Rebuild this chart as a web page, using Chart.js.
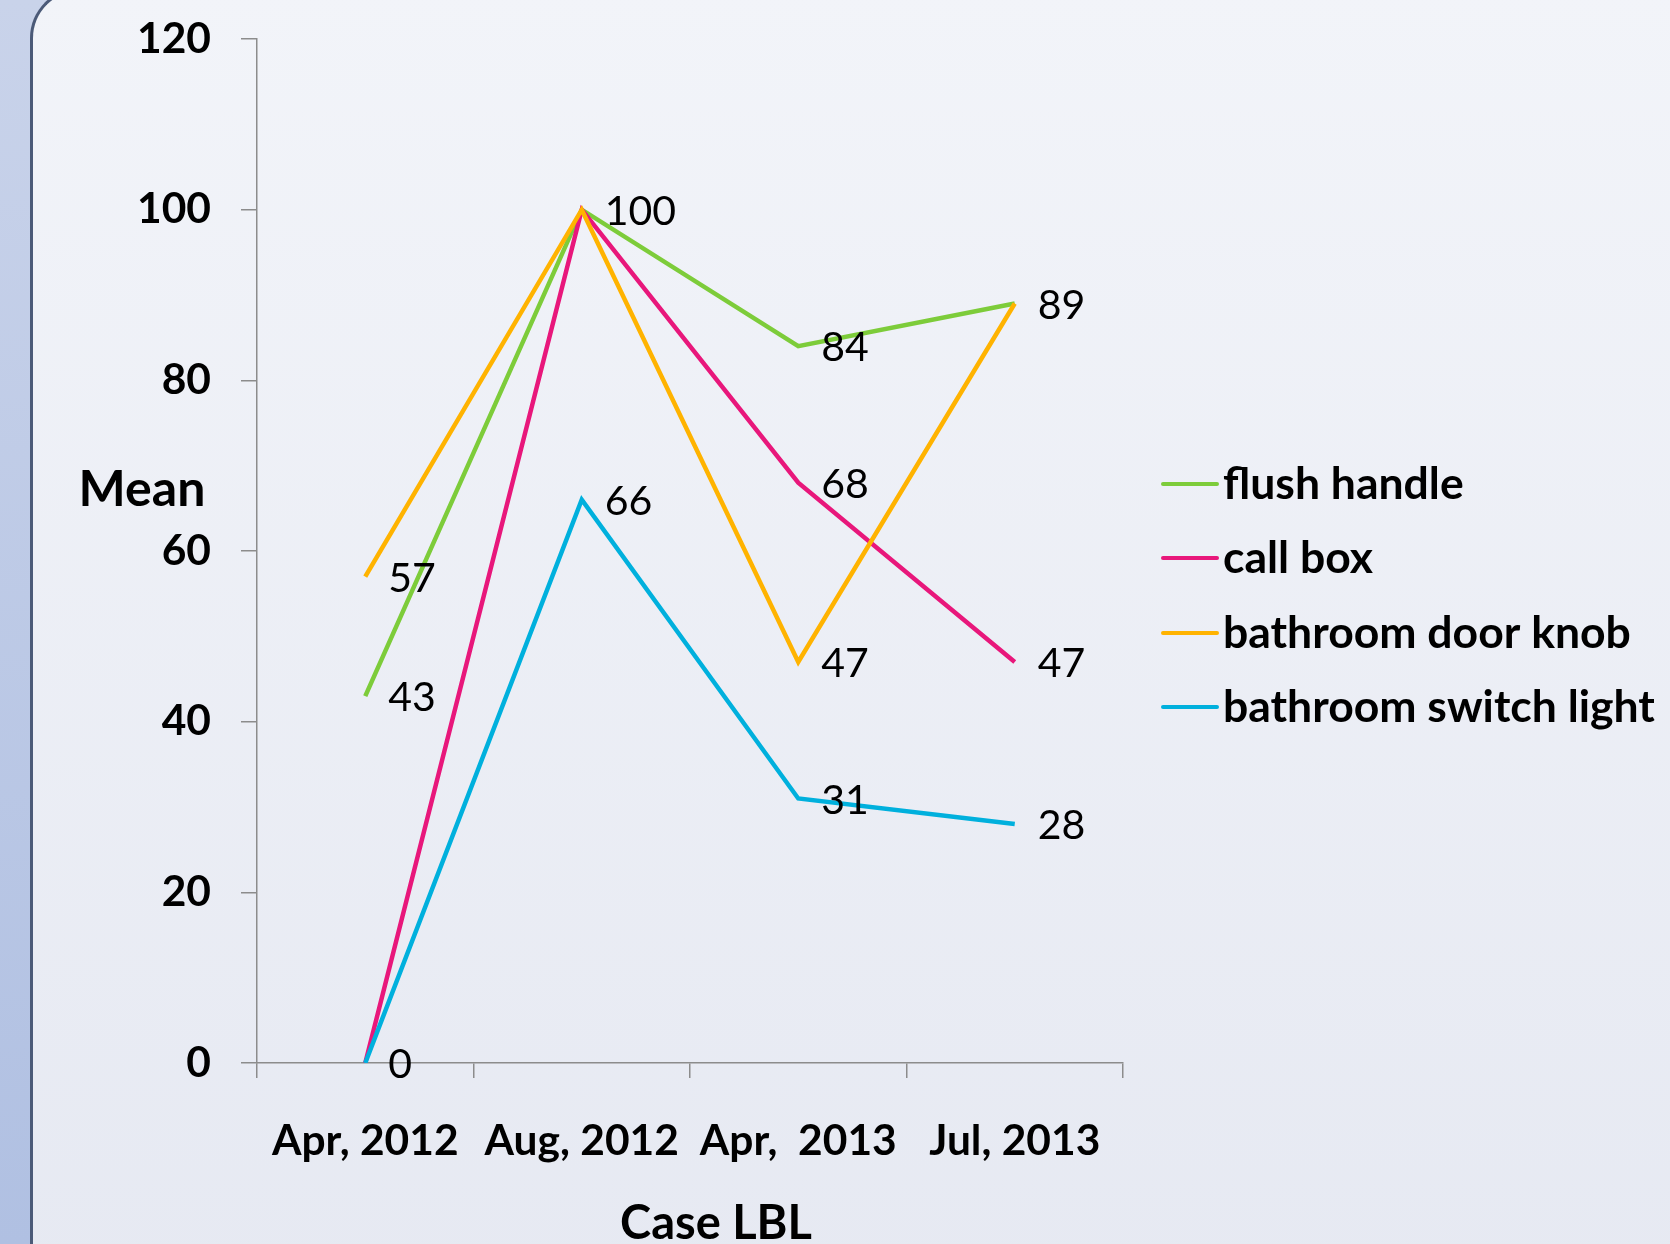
<!DOCTYPE html>
<html>
<head>
<meta charset="utf-8">
<script src="https://cdn.jsdelivr.net/npm/chart.js@4/dist/chart.umd.min.js"></script>
<style>
  html, body { margin: 0; padding: 0; }
  body {
    width: 1670px; height: 1244px; overflow: hidden; position: relative;
    background: linear-gradient(#c9d3ea, #b0c0e2);
  }
  #panel {
    position: absolute; left: 30px; top: -12px; width: 1700px; height: 1300px;
    border-left: 3px solid #4b5a78; border-top: 3px solid #4b5a78;
    border-top-left-radius: 50px;
    background: linear-gradient(#f2f4f9, #e6e9f2);
  }
  #wrap { position: absolute; left: 0; top: 0; width: 1670px; height: 1244px; }
</style>
</head>
<body>
<div id="panel"></div>
<div id="wrap"><canvas id="meanChart" width="1670" height="1244"></canvas></div>
<script>
// Mean by case label
const categories = ['Apr, 2012', 'Aug, 2012', 'Apr,  2013', 'Jul, 2013'];
const seriesNames = ['flush handle', 'call box', 'bathroom door knob', 'bathroom switch light'];
const flushHandle = [43, 100, 84, 89];
const callBox = [0, 100, 68, 47];
const doorKnob = [57, 100, 47, 89];
const switchLight = [0, 66, 31, 28];
const yTicks = [0, 20, 40, 60, 80, 100, 120];
const colors = ['#7dcc3a', '#e8177b', '#ffb300', '#00b0dd'];

const FONT = 'Lato, "Open Sans", sans-serif';

const extras = {
    id: 'extras',
    afterDatasetsDraw(chart) {
        const ctx = chart.ctx;
        ctx.save();
        // value labels right of each point
        ctx.font = '400 41px ' + FONT;
        ctx.fillStyle = '#000';
        ctx.textAlign = 'left';
        ctx.textBaseline = 'middle';
        const seen = {};
        chart.data.datasets.forEach((ds, i) => {
            chart.getDatasetMeta(i).data.forEach((pt, j) => {
                const key = Math.round(pt.x) + '_' + Math.round(pt.y) + '_' + ds.data[j];
                if (seen[key]) return;
                seen[key] = true;
                ctx.fillText(String(ds.data[j]), pt.x + 23, pt.y + 2);
            });
        });

        // axis titles
        ctx.textAlign = 'center';
        ctx.font = '700 50px ' + FONT;
        ctx.fillText('Mean', 142, 490);
        ctx.font = '700 47px ' + FONT;
        ctx.fillText('Case LBL', 716, 1224);

        // legend
        ctx.font = '700 44.5px ' + FONT;
        ctx.textAlign = 'left';
        const rows = [484, 558, 633, 707];
        chart.data.datasets.forEach((ds, i) => {
            ctx.strokeStyle = ds.borderColor;
            ctx.lineWidth = 4;
            ctx.lineCap = 'round';
            ctx.beginPath();
            ctx.moveTo(1163, rows[i]);
            ctx.lineTo(1217, rows[i]);
            ctx.stroke();
            ctx.fillText(ds.label, 1223, rows[i] + 1);
        });
        ctx.restore();
    }
};

const seriesData = [flushHandle, callBox, doorKnob, switchLight];

new Chart(document.getElementById('meanChart'), {
    type: 'line',
    data: {
        labels: categories,
        datasets: seriesNames.map((name, i) => ({
            label: name,
            data: seriesData[i],
            borderColor: colors[i],
            backgroundColor: colors[i],
            borderWidth: 4.5,
            pointRadius: 0,
            tension: 0,
            order: 4 - i
        }))
    },
    options: {
        responsive: false,
        animation: false,
        devicePixelRatio: 1,
        layout: { padding: { left: 0, right: 547, top: 39, bottom: 0 } },
        plugins: {
            legend: { display: false },
            tooltip: { enabled: false }
        },
        scales: {
            x: {
                offset: true,
                grid: { display: true, drawOnChartArea: false, offset: true, tickLength: 15, color: '#8c8c8c', lineWidth: 1.5 },
                border: { color: '#8c8c8c', width: 1.5 },
                ticks: { font: { family: FONT, size: 42.5, weight: '700' }, color: '#000', padding: 38, maxRotation: 0, autoSkip: false },
                afterFit(scale) { scale.height = 181; scale.paddingLeft = 0; scale.paddingRight = 0; }
            },
            y: {
                min: 0,
                max: 120,
                afterBuildTicks(scale) { scale.ticks = yTicks.map(v => ({ value: v })); },
                grid: { display: true, drawOnChartArea: false, tickLength: 16, color: '#8c8c8c', lineWidth: 1.5 },
                border: { color: '#8c8c8c', width: 1.5 },
                ticks: { font: { family: FONT, size: 42.5, weight: '700' }, color: '#000', padding: 30 },
                afterFit(scale) { scale.width = 257; scale.paddingTop = 0; scale.paddingBottom = 0; }
            }
        }
    },
    plugins: [extras]
});
</script>
</body>
</html>
